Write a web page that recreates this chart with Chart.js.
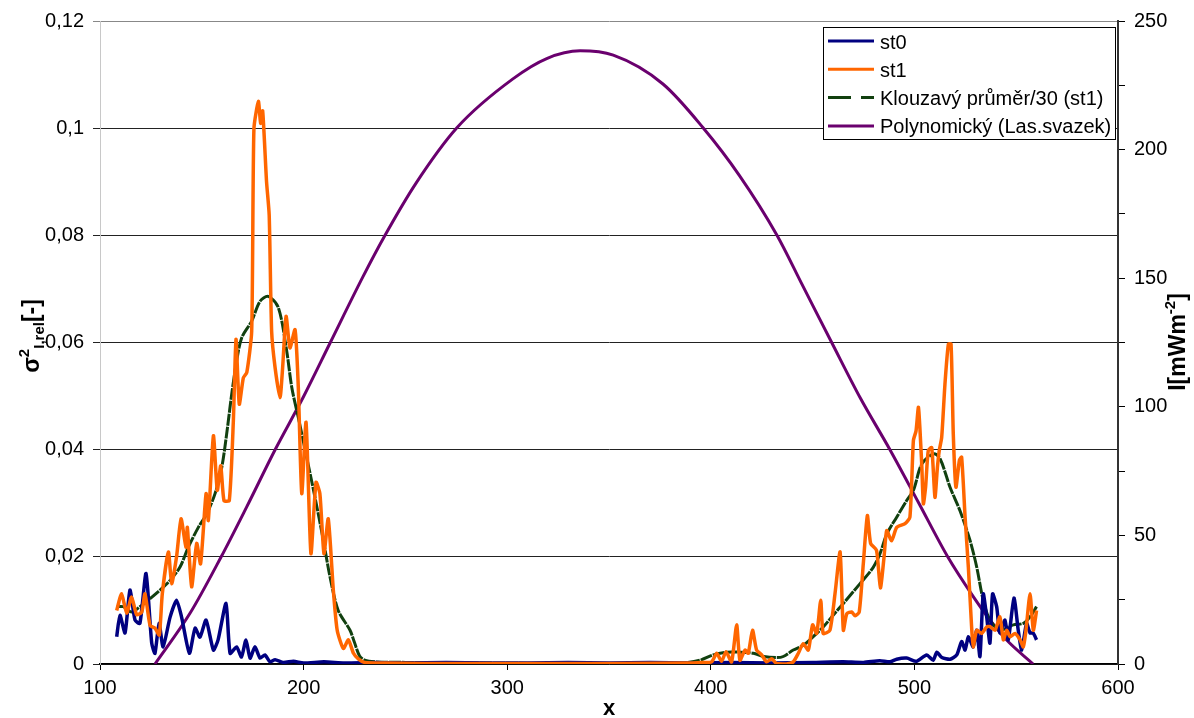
<!DOCTYPE html>
<html>
<head>
<meta charset="utf-8">
<script src="https://cdn.jsdelivr.net/npm/chart.js@4/dist/chart.umd.min.js"></script>
<style>
  html, body { margin: 0; padding: 0; background: #fff; }
</style>
</head>
<body>
<canvas id="graf" width="1194" height="718"></canvas>
<script>
// hodnoty
const st0X = [108.2, 109.8, 112.3, 114.7, 117.2, 119.6, 122.6, 125.4, 127, 129, 131, 134.4, 137.6, 140.1, 143.9, 146.7, 149.1, 152.1, 155.7, 158, 161.9, 163.9, 167.1, 169.5, 171.7, 173.7, 176.1, 178.6, 181, 183.5, 186, 190, 195, 200, 210, 220, 235, 250, 270, 290, 310, 330, 350, 370, 390, 410, 430, 450, 465, 475, 483, 488, 491.3, 496.2, 501, 506, 509.2, 511, 513.5, 517.5, 520.8, 523.2, 524.9, 526.5, 528.9, 530.6, 532.2, 533.8, 535.5, 537.1, 538.4, 540.4, 542, 544.5, 546.1, 548.9, 551, 552.7, 555.1, 556.8, 558.3, 560];
const st0Y = [0.0051, 0.0091, 0.0058, 0.0138, 0.0082, 0.0076, 0.0169, 0.0039, 0.002, 0.0076, 0.0032, 0.0087, 0.0119, 0.0087, 0.002, 0.0067, 0.005, 0.0082, 0.0026, 0.0045, 0.0113, 0.002, 0.0032, 0.0013, 0.0045, 0.0011, 0.0032, 0.0011, 0.0017, 0.0004, 0.0008, 0.0003, 0.0005, 0.0002, 0.0004, 0.0002, 0.0003, 0.0002, 0.0003, 0.0002, 0.0002, 0.0003, 0.0002, 0.0003, 0.0002, 0.0003, 0.0002, 0.0003, 0.0004, 0.0003, 0.0006, 0.0004, 0.0009, 0.0011, 0.0005, 0.0017, 0.0007, 0.0022, 0.0012, 0.0009, 0.0017, 0.0042, 0.0026, 0.0051, 0.0032, 0.0063, 0.0014, 0.0131, 0.0088, 0.0039, 0.0131, 0.0107, 0.0058, 0.0082, 0.0045, 0.0123, 0.0063, 0.0026, 0.0076, 0.0058, 0.0058, 0.0045];

const st1X = [108.2, 110.6, 113.1, 115.5, 118, 120.5, 122.1, 124.6, 127, 129.1, 130.6, 133.6, 135.2, 137.6, 139.8, 142.2, 142.9, 145, 147.5, 149.4, 152.1, 153.2, 155.7, 157.6, 159.3, 160.9, 163.5, 165.5, 166.8, 168.4, 170.4, 172.1, 174.5, 175.6, 177.8, 178.9, 179.9, 181.8, 183.1, 184.3, 186, 188.4, 189.7, 191.4, 193.3, 195.8, 197.4, 199.1, 201.2, 203.6, 206.1, 208, 210, 212.1, 214.6, 216.5, 219.5, 222, 224.5, 227, 230, 240, 260, 300, 350, 390, 396, 400.4, 402.9, 405.3, 407.5, 410.2, 412.7, 414.3, 416.8, 418.4, 420.5, 422.5, 425, 427.4, 429.9, 432.3, 437.2, 440.5, 443, 445.4, 447.9, 450, 452, 454, 455.2, 458.5, 461, 463.5, 465.1, 466.8, 469.2, 470.9, 472.9, 474.9, 476.9, 478.5, 481.4, 483.3, 485.1, 486.4, 488.8, 491.3, 495.4, 497.8, 499.5, 500.8, 502, 503.6, 504.4, 505.5, 506.8, 508.5, 510.1, 511.3, 512.2, 513.4, 515, 516.7, 518, 519.1, 520.4, 522.1, 523.2, 524.9, 526.5, 528.1, 528.9, 530.6, 533, 535.5, 537, 539.6, 542, 543.7, 545.3, 547, 549.4, 551.9, 553.5, 554.8, 556.8, 558.4, 560];
const st1Y = [0.010, 0.0131, 0.0095, 0.0125, 0.0092, 0.0097, 0.0131, 0.0072, 0.0067, 0.0054, 0.0131, 0.0209, 0.015, 0.020, 0.0271, 0.0218, 0.0255, 0.0144, 0.0225, 0.0187, 0.0318, 0.0268, 0.0426, 0.0324, 0.037, 0.0305, 0.0305, 0.0454, 0.0606, 0.0485, 0.0534, 0.0544, 0.0621, 0.0999, 0.105, 0.1009, 0.1032, 0.090, 0.0838, 0.0621, 0.0553, 0.0497, 0.0553, 0.0649, 0.059, 0.0624, 0.0516, 0.0318, 0.0451, 0.0206, 0.0339, 0.0318, 0.0206, 0.0271, 0.0138, 0.0063, 0.0029, 0.0045, 0.002, 0.0009, 0.0003, 0.0002, 0.0001, 0.0001, 0.0001, 0.0002, 0.0003, 0.0004, 0.002, 0.0005, 0.0023, 0.0004, 0.0073, 0.0007, 0.0026, 0.002, 0.0063, 0.0026, 0.0017, 0.0004, 0.001, 0.0001, 0, 0.0004, 0.002, 0.0038, 0.0026, 0.0073, 0.0057, 0.0119, 0.0057, 0.0063, 0.0131, 0.0209, 0.0063, 0.0094, 0.0097, 0.009, 0.0097, 0.0187, 0.0277, 0.0225, 0.0212, 0.0142, 0.020, 0.0249, 0.023, 0.0255, 0.0262, 0.0274, 0.0417, 0.0435, 0.0479, 0.0373, 0.0299, 0.033, 0.0398, 0.0404, 0.0311, 0.0367, 0.0398, 0.0423, 0.0522, 0.0597, 0.0597, 0.0429, 0.033, 0.038, 0.0386, 0.0274, 0.0181, 0.0069, 0.0032, 0.0063, 0.0057, 0.0069, 0.007, 0.0063, 0.0088, 0.0045, 0.0063, 0.0051, 0.0057, 0.0045, 0.0032, 0.0063, 0.0131, 0.0063, 0.010];

// klouzavy prumer (30) z st1
const prumerX = [108.2, 111.4, 115.5, 119.6, 124.6, 129.5, 134.4, 139.3, 143.4, 148.3, 152.4, 156.5, 159.8, 162.2, 164.7, 167.1, 169.6, 174.5, 178.6, 182.6, 187.6, 191.7, 194.2, 197.4, 201.5, 205.6, 209.7, 213, 217, 222.8, 225, 227.5, 230, 235, 250, 280, 320, 365, 386.5, 394.7, 401.2, 407.8, 414.3, 420.9, 425.8, 432.3, 435.6, 440.5, 445.4, 450.3, 455.2, 460.1, 465.1, 473.3, 479.7, 483.1, 486.5, 491.3, 496.2, 499.5, 503.6, 509.3, 512.6, 517.5, 522.4, 527.3, 530.6, 533.8, 537.1, 542, 548.6, 553.5, 556.8, 560];
const prumerY = [0.0107, 0.0107, 0.0097, 0.0107, 0.0122, 0.0138, 0.0156, 0.0181, 0.0218, 0.0255, 0.028, 0.0318, 0.0367, 0.0429, 0.0504, 0.0565, 0.0609, 0.064, 0.0677, 0.0686, 0.0665, 0.0584, 0.0516, 0.046, 0.0386, 0.0311, 0.0231, 0.0162, 0.01, 0.0063, 0.004, 0.0015, 0.0007, 0.0004, 0.0003, 0.0002, 0.0001, 0.0001, 0.0002, 0.0007, 0.0017, 0.0022, 0.0022, 0.002, 0.0014, 0.0012, 0.0014, 0.0026, 0.0035, 0.0051, 0.0069, 0.0091, 0.0113, 0.015, 0.018, 0.0206, 0.0243, 0.0274, 0.0305, 0.0324, 0.0373, 0.0392, 0.0383, 0.033, 0.0286, 0.0231, 0.0181, 0.0119, 0.0082, 0.0063, 0.0073, 0.0076, 0.0088, 0.0107];

// polynomicky trend laseroveho svazku, I [mW/m2]
const svazekX = [127, 144.2, 159.4, 172, 186, 200, 213, 229.3, 240, 255, 275.3, 302.8, 319.4, 335.8, 352.1, 376.5, 396.2, 414, 432.5, 445, 459.5, 473.3, 488, 502, 516.5, 529, 537.1, 545.3, 558.3];
const svazekY = [0, 19.7, 41.5, 61, 83.3, 104, 124.8, 150.8, 166.7, 186.7, 208.5, 227.5, 235.4, 238.4, 236.7, 225.5, 208.5, 190, 166.7, 147.3, 124.8, 103.6, 83.3, 62.8, 41.5, 26.1, 17.1, 9.3, 0];

const nazvy = ['st0', 'st1', 'Klouzavý průměr/30 (st1)', 'Polynomický (Las.svazek)'];

function body(xs, ys) {
  return xs.map((x, i) => ({ x: x, y: ys[i] }));
}

const pismo = '"Liberation Sans", Arial, sans-serif';

// popisky os (s indexy) a legenda s rámečkem
const popisky = {
  id: 'popisky',
  afterDraw(chart) {
    const ctx = chart.ctx;
    ctx.save();
    ctx.fillStyle = '#000';

    ctx.font = 'bold 22px ' + pismo;
    ctx.textAlign = 'center';
    ctx.textBaseline = 'alphabetic';
    ctx.fillText('x', 609, 715);

    function svisle(cx, cy, casti) {
      ctx.save();
      ctx.translate(cx, cy);
      ctx.rotate(-Math.PI / 2);
      ctx.textAlign = 'left';
      let sirka = 0;
      casti.forEach(c => { ctx.font = c.f; sirka += ctx.measureText(c.t).width; });
      let x = -sirka / 2;
      casti.forEach(c => {
        ctx.font = c.f;
        ctx.fillText(c.t, x, c.dy);
        x += ctx.measureText(c.t).width;
      });
      ctx.restore();
    }
    const velke = 'bold 23px ' + pismo;
    const male = 'bold 15px ' + pismo;
    svisle(39, 336, [
      { t: 'σ', f: velke, dy: 0 },
      { t: '2', f: male, dy: -10 },
      { t: 'I,rel', f: male, dy: 5 },
      { t: '[-]', f: velke, dy: 0 }
    ]);
    svisle(1185, 342, [
      { t: 'I[mWm', f: velke, dy: 0 },
      { t: '-2', f: male, dy: -10 },
      { t: ']', f: velke, dy: 0 }
    ]);

    // legenda
    ctx.fillStyle = '#fff';
    ctx.fillRect(823, 27, 293, 113);
    ctx.strokeStyle = '#000';
    ctx.lineWidth = 1;
    ctx.strokeRect(823.5, 27.5, 292, 112);
    const poradi = [1, 0, 2, 3];
    ctx.font = '20px ' + pismo;
    ctx.textBaseline = 'middle';
    ctx.textAlign = 'left';
    poradi.forEach((di, i) => {
      const ds = chart.data.datasets[di];
      const y = 41 + i * 28.3;
      ctx.strokeStyle = ds.borderColor;
      ctx.lineWidth = 3;
      ctx.setLineDash(di === 2 ? [23, 10] : []);
      ctx.beginPath();
      ctx.moveTo(828, y);
      ctx.lineTo(874, y);
      ctx.stroke();
      ctx.setLineDash([]);
      ctx.fillStyle = '#000';
      ctx.fillText(ds.label, 880, y + 2);
    });
    ctx.restore();
  }
};

const ctx = document.getElementById('graf').getContext('2d');
const graf = new Chart(ctx, {
  type: 'line',
  data: {
    datasets: [
      {
        label: nazvy[1],
        data: body(st1X, st1Y),
        borderColor: '#ff6600',
        borderWidth: 3.5,
        tension: 0.2,
        yAxisID: 'y'
      },
      {
        label: nazvy[0],
        data: body(st0X, st0Y),
        borderColor: '#000080',
        borderWidth: 3.5,
        tension: 0.2,
        yAxisID: 'y'
      },
      {
        label: nazvy[2],
        data: body(prumerX, prumerY),
        borderColor: '#11400f',
        borderWidth: 3,
        borderDash: [12, 1],
        tension: 0.3,
        yAxisID: 'y'
      },
      {
        label: nazvy[3],
        data: body(svazekX, svazekY),
        borderColor: '#6a006e',
        borderWidth: 3,
        cubicInterpolationMode: 'monotone',
        yAxisID: 'y2'
      }
    ]
  },
  options: {
    responsive: false,
    animation: false,
    elements: { point: { radius: 0 } },
    layout: { padding: { top: 19, left: 0, right: 0, bottom: 0 } },
    plugins: {
      legend: { display: false },
      tooltip: { enabled: false }
    },
    scales: {
      x: {
        type: 'linear',
        min: 100,
        max: 600,
        ticks: { stepSize: 100, color: '#000', font: { family: pismo, size: 20 }, padding: 6, maxRotation: 0 },
        grid: { drawOnChartArea: false, tickLength: 6, color: '#000' },
        border: { color: '#000', width: 1.5 },
        afterFit: function (s) { s.height = 54; }
      },
      y: {
        position: 'left',
        min: 0,
        max: 0.12,
        ticks: {
          stepSize: 0.02,
          color: '#000',
          font: { family: pismo, size: 20 },
          padding: 9,
          callback: v => String(Math.round(v * 100) / 100).replace('.', ',')
        },
        grid: {
          color: ctx2 => (ctx2.tick && ctx2.tick.value >= 0.119 ? '#888' : '#222'),
          tickLength: 7
        },
        border: { color: '#c8c8c8', width: 1 },
        afterFit: function (s) { s.width = 100; }
      },
      y2: {
        position: 'right',
        min: 0,
        max: 250,
        ticks: {
          stepSize: 25,
          color: '#000',
          font: { family: pismo, size: 20 },
          padding: 9,
          callback: v => (v % 50 === 0 ? String(v) : '')
        },
        grid: { drawOnChartArea: false, tickLength: 7, color: '#000' },
        border: { color: '#333', width: 2 },
        afterFit: function (s) { s.width = 76; }
      }
    }
  },
  plugins: [popisky]
});
</script>
</body>
</html>
